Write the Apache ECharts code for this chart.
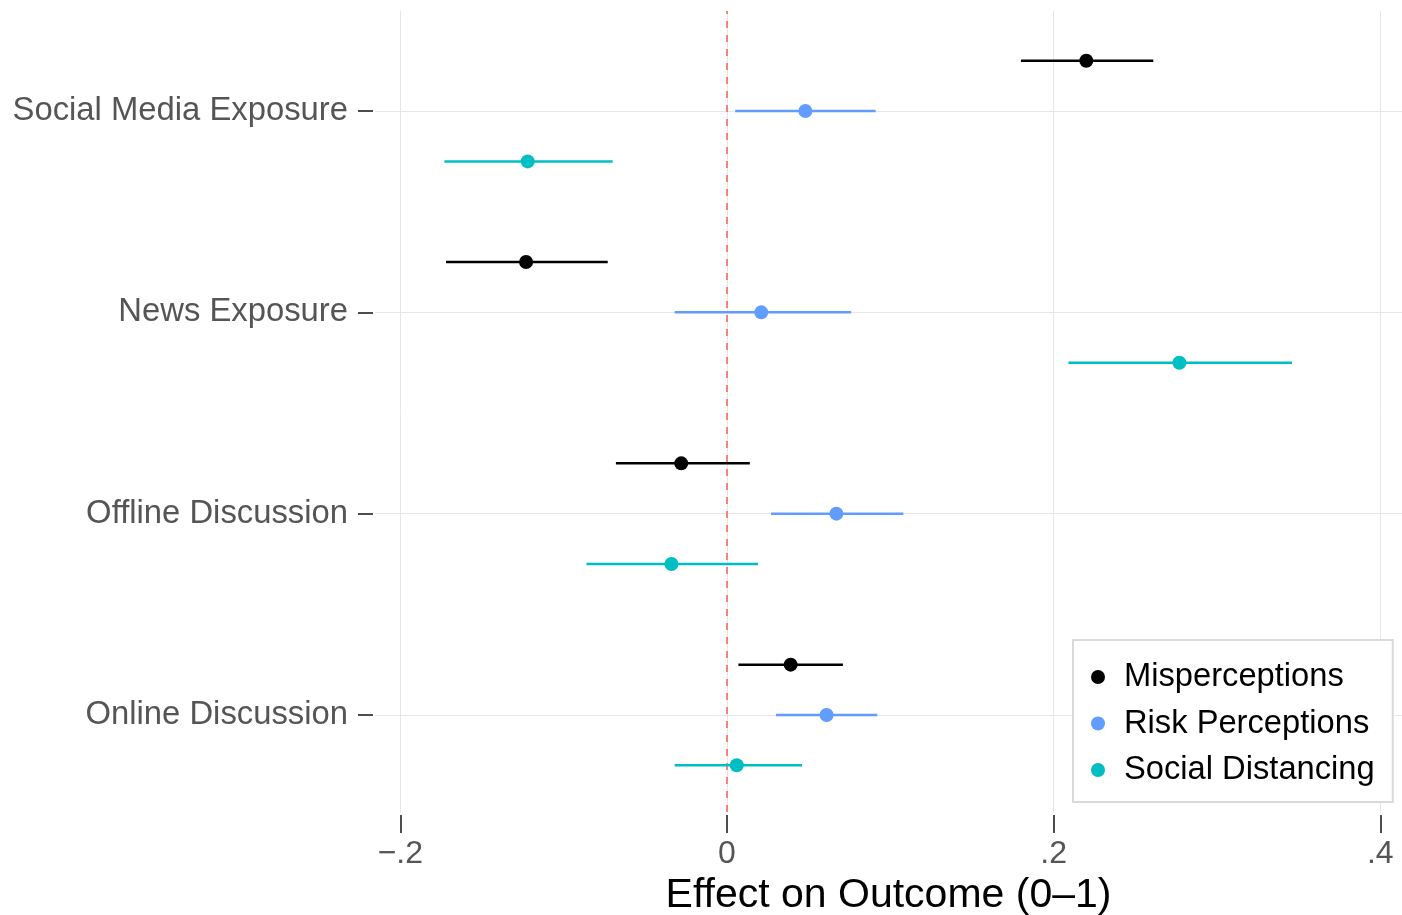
<!DOCTYPE html>
<html>
<head>
<meta charset="utf-8">
<script src="https://cdn.jsdelivr.net/npm/echarts@6/dist/echarts.min.js"></script>
<style>
  html, body { margin: 0; padding: 0; background: #ffffff; }
  #chart { width: 1402px; height: 915px; }
</style>
</head>
<body>
<div id="chart"></div>
<script>
// Predictors, listed from top to bottom
const categories = ['Social Media Exposure', 'News Exposure', 'Offline Discussion', 'Online Discussion'];
// Outcomes (legend order)
const outcomes = ['Misperceptions', 'Risk Perceptions', 'Social Distancing'];

// Point estimates and 95% interval bounds, one value per predictor
const misperEst = [0.220, -0.123, -0.028, 0.039];
const misperLo  = [0.180, -0.172, -0.068, 0.007];
const misperHi  = [0.261, -0.073, 0.014, 0.071];

const riskEst = [0.048, 0.021, 0.067, 0.061];
const riskLo  = [0.005, -0.032, 0.027, 0.030];
const riskHi  = [0.091, 0.076, 0.108, 0.092];

const distEst = [-0.122, 0.277, -0.034, 0.006];
const distLo  = [-0.173, 0.209, -0.086, -0.032];
const distHi  = [-0.070, 0.346, 0.019, 0.046];

// Tick values on the effect axis
const xTicks = [-0.2, 0, 0.2, 0.4];

const colors = ['#000000', '#619CFF', '#00BFC4'];
const font = "'Liberation Sans', Arial, Helvetica, sans-serif";

// Vertical slot of each predictor (top row highest) and dodge offset per outcome
const rowPos = categories.map((c, i) => categories.length - i);
const dodge = [0.25, 0, -0.25];

function buildData(est, lo, hi, s) {
  return est.map((v, i) => [v, rowPos[i] + dodge[s], lo[i], hi[i]]);
}

const seriesValues = [
  buildData(misperEst, misperLo, misperHi, 0),
  buildData(riskEst, riskLo, riskHi, 1),
  buildData(distEst, distLo, distHi, 2)
];

function renderInterval(params, api) {
  const y = api.value(1);
  const mid = api.coord([api.value(0), y]);
  const lo = api.coord([api.value(2), y]);
  const hi = api.coord([api.value(3), y]);
  const color = api.visual('color');
  return {
    type: 'group',
    children: [
      { type: 'line', shape: { x1: lo[0], y1: lo[1], x2: hi[0], y2: hi[1] },
        style: { stroke: color, lineWidth: 2.5 } },
      { type: 'circle', shape: { cx: mid[0], cy: mid[1], r: 7 },
        style: { fill: color } }
    ]
  };
}

function fmtTick(v) {
  if (Math.abs(v) < 1e-9) return '0';
  const s = String(Math.abs(Math.round(v * 100) / 100)).replace(/^0/, '');
  return (v < 0 ? '\u2212' : '') + s;
}

const series = outcomes.map((name, s) => ({
  name: name,
  type: 'custom',
  renderItem: renderInterval,
  itemStyle: { color: colors[s] },
  encode: { x: [0, 2, 3], y: 1 },
  data: seriesValues[s],
  z: 3
}));

// Reference line at zero effect
series[0].markLine = {
  silent: true,
  symbol: ['none', 'none'],
  label: { show: false },
  lineStyle: { color: '#F8766D', type: [7, 7], width: 1.8 },
  data: [{ xAxis: 0 }],
  z: 1
};

const chart = echarts.init(document.getElementById('chart'));
chart.setOption({
  animation: false,
  backgroundColor: '#ffffff',
  textStyle: { fontFamily: font },
  grid: { left: 375, top: 11, right: 0, height: 801, outerBoundsMode: 'none', containLabel: false },
  xAxis: {
    type: 'value',
    min: -0.2155,
    max: 0.4133,
    offset: 3,
    name: 'Effect on Outcome (0\u20131)',
    nameLocation: 'middle',
    nameGap: 48,
    nameTextStyle: { fontSize: 41, color: '#000000', fontFamily: font },
    axisLine: { show: false, onZero: false },
    axisTick: { show: true, length: 18, customValues: xTicks,
                lineStyle: { color: '#4d4d4d', width: 2 } },
    axisLabel: { customValues: xTicks, formatter: fmtTick, margin: 23,
                 fontSize: 32, color: '#555555', fontFamily: font },
    splitLine: { show: true, lineStyle: { color: '#e6e6e6', width: 1 } }
  },
  yAxis: {
    type: 'value',
    min: 0.518,
    max: 4.497,
    offset: 2,
    axisLine: { show: false, onZero: false },
    axisTick: { show: true, length: 15, customValues: rowPos,
                lineStyle: { color: '#4d4d4d', width: 2 } },
    axisLabel: {
      customValues: rowPos,
      margin: 25,
      padding: [5, 0, 0, 0],
      fontSize: 32.8,
      color: '#555555',
      fontFamily: font,
      formatter: v => categories[categories.length - Math.round(v)]
    },
    splitLine: { show: true, lineStyle: { color: '#e6e6e6', width: 1 } }
  },
  legend: {
    data: outcomes,
    orient: 'vertical',
    left: 1073,
    top: 640,
    icon: 'circle',
    itemWidth: 14,
    itemHeight: 14,
    itemGap: 10.5,
    padding: [19, 18, 14, 18],
    backgroundColor: '#ffffff',
    borderColor: '#d9d9d9',
    borderWidth: 2,
    textStyle: { fontSize: 32.7, color: '#000000', lineHeight: 36,
                 padding: [0, 0, 0, 14], fontFamily: font }
  },
  series: series
});
</script>
</body>
</html>
